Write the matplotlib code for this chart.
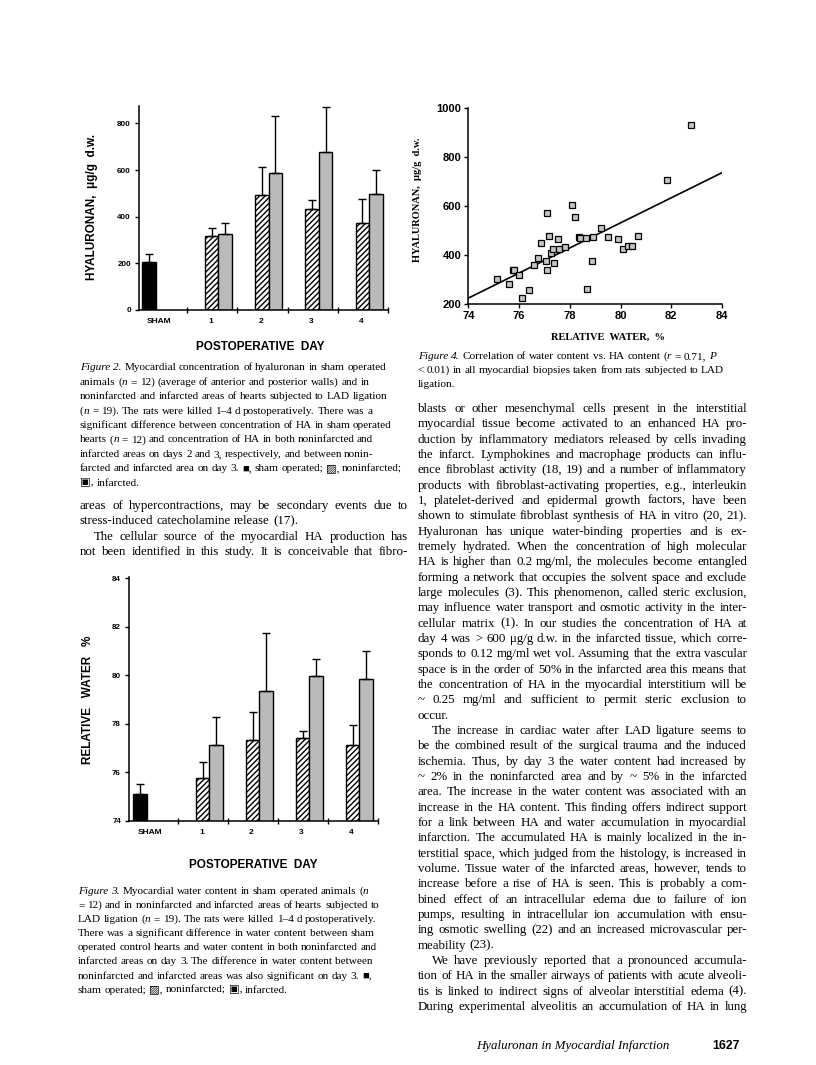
import numpy as np
import matplotlib
matplotlib.use('Agg')
import matplotlib.pyplot as plt

W, H, DPI = 816, 1065, 100
SERIF = ['Liberation Serif', 'DejaVu Serif', 'DejaVu Sans']
SANS = ['Liberation Sans', 'DejaVu Sans']

# Figure 2: hyaluronan, ug/g d.w.
day_labels = ['SHAM', '1', '2', '3', '4']
ha_sham = 205
ha_sham_err = 35
ha_noninf = [318, 494, 435, 374]
ha_noninf_err = [34, 118, 37, 104]
ha_inf = [325, 588, 679, 498]
ha_inf_err = [49, 243, 190, 102]

# Figure 3: relative water, %
water_sham = 75.12
water_sham_err = 0.42
water_noninf = [75.77, 77.34, 77.41, 77.13]
water_noninf_err = [0.65, 1.17, 0.29, 0.82]
water_inf = [77.14, 79.37, 79.97, 79.85]
water_inf_err = [1.15, 2.37, 0.71, 1.17]

# Figure 4: water vs HA, all biopsies
water_pct = [75.12, 75.59, 75.75, 75.81, 75.98, 76.13, 76.41, 76.60, 76.76, 76.87,
             77.08, 77.11, 77.10, 77.18, 77.27, 77.35, 77.39, 77.54, 77.58, 77.82,
             78.09, 78.20, 78.37, 78.42, 78.63, 78.69, 78.86, 78.90, 79.22, 79.50,
             79.92, 80.10, 80.30, 80.47, 80.67, 81.85, 82.77]
ha_ug = [300, 281, 339, 339, 317, 224, 256, 358, 387, 449,
         374, 339, 569, 478, 406, 423, 366, 463, 423, 432,
         602, 553, 474, 470, 468, 260, 374, 474, 508, 472,
         463, 423, 435, 438, 478, 704, 928]
fit_x = [74, 84]
fit_y = [224, 735]

cap2 = [
    "§Figure §2. Myocardial concentration of hyaluronan in sham operated",
    "animals (|§n = 12) (average of anterior and posterior walls) and in",
    "noninfarcted and infarcted areas of hearts subjected to LAD ligation",
    "(|§n = 19). The rats were killed 1–4 d postoperatively. There was a",
    "significant difference between concentration of HA in sham operated",
    "hearts (|§n = 12) and concentration of HA in both noninfarcted and",
    "infarcted areas on days 2 and 3, respectively, and between nonin-",
    "farcted and infarcted area on day 3. ■, sham operated; ▨, noninfarcted;",
    "▣, infarcted.",
]
left_body = [
    ("areas of hypercontractions, may be secondary events due to", True, 0),
    ("stress-induced catecholamine release (17).", False, 0),
    ("The cellular source of the myocardial HA production has", True, 14),
    ("not been identified in this study. It is conceivable that fibro-", True, 0),
]
cap3 = [
    "§Figure §3. Myocardial water content in sham operated animals (|§n",
    "= 12) and in noninfarcted and infarcted areas of hearts subjected to",
    "LAD ligation (|§n = 19). The rats were killed 1–4 d postoperatively.",
    "There was a significant difference in water content between sham",
    "operated control hearts and water content in both noninfarcted and",
    "infarcted areas on day 3. The difference in water content between",
    "noninfarcted and infarcted areas was also significant on day 3. ■,",
    "sham operated; ▨, noninfarcted; ▣, infarcted.",
]
cap4 = [
    "§Figure §4. Correlation of water content vs. HA content (|§r = 0.71, §P",
    "< 0.01) in all myocardial biopsies taken from rats subjected to LAD",
    "ligation.",
]
right_body = [
    ("blasts or other mesenchymal cells present in the interstitial", True, 0),
    ("myocardial tissue become activated to an enhanced HA pro-", True, 0),
    ("duction by inflammatory mediators released by cells invading", True, 0),
    ("the infarct. Lymphokines and macrophage products can influ-", True, 0),
    ("ence fibroblast activity (18, 19) and a number of inflammatory", True, 0),
    ("products with fibroblast-activating properties, e.g., interleukin", True, 0),
    ("1, platelet-derived and epidermal growth factors, have been", True, 0),
    ("shown to stimulate fibroblast synthesis of HA in vitro (20, 21).", True, 0),
    ("Hyaluronan has unique water-binding properties and is ex-", True, 0),
    ("tremely hydrated. When the concentration of high molecular", True, 0),
    ("HA is higher than 0.2 mg/ml, the molecules become entangled", True, 0),
    ("forming a network that occupies the solvent space and exclude", True, 0),
    ("large molecules (3). This phenomenon, called steric exclusion,", True, 0),
    ("may influence water transport and osmotic activity in the inter-", True, 0),
    ("cellular matrix (1). In our studies the concentration of HA at", True, 0),
    ("day 4 was > 600 μg/g d.w. in the infarcted tissue, which corre-", True, 0),
    ("sponds to 0.12 mg/ml wet vol. Assuming that the extra vascular", True, 0),
    ("space is in the order of 50% in the infarcted area this means that", True, 0),
    ("the concentration of HA in the myocardial interstitium will be", True, 0),
    ("~ 0.25 mg/ml and sufficient to permit steric exclusion to", True, 0),
    ("occur.", False, 0),
    ("The increase in cardiac water after LAD ligature seems to", True, 14),
    ("be the combined result of the surgical trauma and the induced", True, 0),
    ("ischemia. Thus, by day 3 the water content had increased by", True, 0),
    ("~ 2% in the noninfarcted area and by ~ 5% in the infarcted", True, 0),
    ("area. The increase in the water content was associated with an", True, 0),
    ("increase in the HA content. This finding offers indirect support", True, 0),
    ("for a link between HA and water accumulation in myocardial", True, 0),
    ("infarction. The accumulated HA is mainly localized in the in-", True, 0),
    ("terstitial space, which judged from the histology, is increased in", True, 0),
    ("volume. Tissue water of the infarcted areas, however, tends to", True, 0),
    ("increase before a rise of HA is seen. This is probably a com-", True, 0),
    ("bined effect of an intracellular edema due to failure of ion", True, 0),
    ("pumps, resulting in intracellular ion accumulation with ensu-", True, 0),
    ("ing osmotic swelling (22) and an increased microvascular per-", True, 0),
    ("meability (23).", False, 0),
    ("We have previously reported that a pronounced accumula-", True, 14),
    ("tion of HA in the smaller airways of patients with acute alveoli-", True, 0),
    ("tis is linked to indirect signs of alveolar interstitial edema (4).", True, 0),
    ("During experimental alveolitis an accumulation of HA in lung", True, 0),
]

fig = plt.figure(figsize=(W / DPI, H / DPI), dpi=DPI)
fig.patch.set_facecolor('white')
r = fig.canvas.get_renderer()


def fx(x):
    return x / W


def fy(y):
    return 1 - y / H


def make_word(word, size):
    parts = []
    off = 0.0
    for seg in word.split('|'):
        italic = seg.startswith('§')
        seg = seg.lstrip('§')
        t = fig.text(0, 0, seg, fontsize=size, family=SERIF, va='baseline',
                     fontstyle='italic' if italic else 'normal')
        parts.append((t, off))
        off += t.get_window_extent(r).width
    return parts, off


def natural_width(line, size):
    total = 0.0
    words = line.split(' ')
    for w in words:
        parts, width = make_word(w, size)
        for t, _ in parts:
            t.remove()
        total += width
    return total + (len(words) - 1) * size * DPI / 72 * 0.25


def draw_line(line, x0, x1, y, size, justify=False, indent=0):
    groups = [make_word(w, size) for w in line.split(' ')]
    total = sum(g[1] for g in groups)
    gap = size * DPI / 72 * 0.25
    if justify and len(groups) > 1:
        gap = (x1 - x0 - indent - total) / (len(groups) - 1)
    x = x0 + indent
    for parts, w in groups:
        for t, off in parts:
            t.set_position((fx(x + off), fy(y)))
        x += w + gap


# font sizes fitted to the column widths
body_size = 10 * 332 / max(natural_width(l, 10) + ind for l, j, ind in right_body if j)
cap_size = 10 * 308 / natural_width(cap2[0], 10)

for i, line in enumerate(cap2):
    draw_line(line, 80, 405, 370.5 + i * 14.4, cap_size)
for i, (line, j, ind) in enumerate(left_body):
    draw_line(line, 80, 408, 509 + i * 15.3, body_size, j, ind)
for i, line in enumerate(cap3):
    draw_line(line, 78, 405, 894 + i * 14.1, cap_size)
for i, line in enumerate(cap4):
    draw_line(line, 418, 745, 359 + i * 14.2, cap_size)
for i, (line, j, ind) in enumerate(right_body):
    draw_line(line, 418, 747, 412 + i * 15.33, body_size, j, ind)

fig.text(fx(670), fy(1049), "Hyaluronan in Myocardial Infarction", family=SERIF,
         fontstyle='italic', fontsize=body_size, ha='right', va='baseline')
fig.text(fx(740), fy(1049), "1627", family=SANS, fontweight='bold',
         fontsize=body_size * 0.95, ha='right', va='baseline')

plt.rcParams['hatch.linewidth'] = 1.0

bw = 0.27
x_noninf = np.arange(4) + 1.25
x_inf = x_noninf + bw
label_pos = [0.2, 1.23, 2.23, 3.23, 4.23]
group_edges = np.arange(5) + 0.76


def bar_panel(ax, sham, sham_err, noninf, noninf_err, inf, inf_err):
    ax.bar([0], [sham], bw, color='black', edgecolor='black', lw=1)
    ax.bar(x_noninf, noninf, bw, facecolor='white', edgecolor='black',
           hatch='//////', lw=1)
    ax.bar(x_inf, inf, bw, facecolor='#bababa', edgecolor='black', lw=1)
    xs = np.concatenate([[0], x_noninf, x_inf])
    ys = np.concatenate([[sham], noninf, inf])
    es = np.concatenate([[sham_err], noninf_err, inf_err])
    ax.errorbar(xs, ys, yerr=[np.zeros(len(es)), es], fmt='none', ecolor='black',
                elinewidth=1, capsize=3, capthick=1)
    for s in ['top', 'right']:
        ax.spines[s].set_visible(False)
    for s in ['left', 'bottom']:
        ax.spines[s].set_linewidth(1.1)
    ax.set_xticks(label_pos)
    ax.set_xticklabels(day_labels, family=SANS, fontweight='bold', fontsize=6)
    ax.set_xticks(group_edges, minor=True)
    ax.tick_params(axis='x', which='major', length=0, pad=6)
    ax.tick_params(axis='x', which='minor', length=4, direction='inout', width=1)
    ax.tick_params(axis='y', length=3, width=1, pad=3, labelsize=5.8)
    for t in ax.get_yticklabels():
        t.set_family(SANS)
        t.set_fontweight('bold')


# Figure 2
ax2 = fig.add_axes([fx(139.3), fy(310), (388 - 139.3) / W, (310 - 106) / H])
ax2.set_ylim(0, 875)
ax2.set_xlim(-0.19, 4.76)
ax2.set_yticks([0, 200, 400, 600, 800])
bar_panel(ax2, ha_sham, ha_sham_err, ha_noninf, ha_noninf_err, ha_inf, ha_inf_err)
fig.text(fx(92), fy(207), "HYALURONAN,  μg/g  d.w.", rotation=90, family=SANS,
         fontweight='bold', fontsize=8.5, ha='center', va='center')
fig.text(fx(260), fy(347), "POSTOPERATIVE  DAY", family=SANS, fontweight='bold',
         fontsize=8.5, ha='center', va='center')

# Figure 3
ax3 = fig.add_axes([fx(129.3), fy(821), (378 - 129.3) / W, (821 - 577) / H])
ax3.set_ylim(74, 84.05)
ax3.set_xlim(-0.214, 4.76)
ax3.set_yticks([74, 76, 78, 80, 82, 84])
bar_panel(ax3, water_sham, water_sham_err, water_noninf, water_noninf_err,
          water_inf, water_inf_err)
fig.text(fx(88), fy(700), "RELATIVE   WATER   %", rotation=90, family=SANS,
         fontweight='bold', fontsize=8.5, ha='center', va='center')
fig.text(fx(253), fy(865), "POSTOPERATIVE  DAY", family=SANS, fontweight='bold',
         fontsize=8.5, ha='center', va='center')

# Figure 4
ax4 = fig.add_axes([fx(468.3), fy(304), (722 - 468.3) / W, (304 - 107.7) / H])
ax4.plot(fit_x, fit_y, color='black', lw=1.2)
ax4.plot(water_pct, ha_ug, 's', ms=4, mfc='#c4c4c4', mec='black', mew=0.9)
ax4.set_xlim(74, 84)
ax4.set_ylim(200, 1000)
ax4.set_xticks([74, 76, 78, 80, 82, 84])
ax4.set_yticks([200, 400, 600, 800, 1000])
for s in ['top', 'right']:
    ax4.spines[s].set_visible(False)
for s in ['left', 'bottom']:
    ax4.spines[s].set_linewidth(1.1)
ax4.tick_params(length=3, width=1, labelsize=8, pad=2)
for t in ax4.get_xticklabels() + ax4.get_yticklabels():
    t.set_family(SANS)
    t.set_fontweight('bold')
fig.text(fx(418), fy(200), "HYALURONAN,  μg/g  d.w.", rotation=90, family=SERIF,
         fontweight='bold', fontsize=7.5, ha='center', va='center')
fig.text(fx(608), fy(337), "RELATIVE  WATER,  %", family=SERIF, fontweight='bold',
         fontsize=7.5, ha='center', va='center')

fig.savefig('out.png', dpi=DPI, facecolor='white')
